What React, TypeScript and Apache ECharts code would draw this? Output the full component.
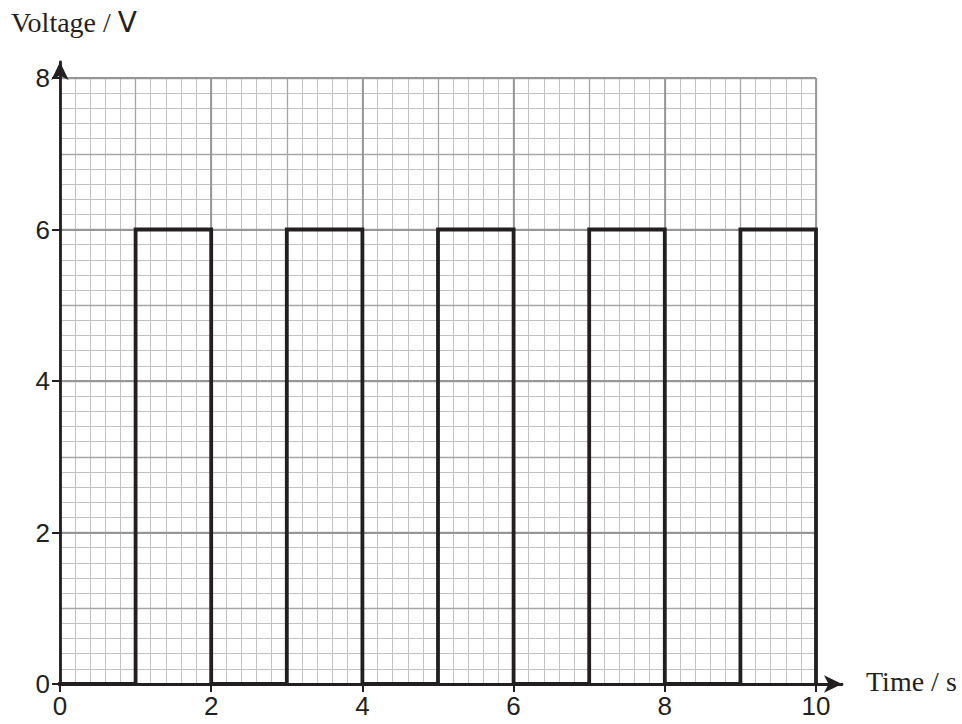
import React, { useEffect, useRef } from 'react';
import * as echarts from 'echarts';

const timeEdges = [0, 1, 2, 3, 4, 5, 6, 7, 8, 9, 10];
const voltageLevels = [0, 6, 0, 6, 0, 6, 0, 6, 0, 6, 0];
const xRange = [0, 10];
const yRange = [0, 8];
const majorStep = 2;
const mediumStep = 1;
const minorStep = 0.2;

const INK = '#231f20';
const MINOR = '#c2c2c2';
const MEDIUM = '#a6a6a6';
const MAJOR = '#969696';

const GRID_MAIN = { left: 60, right: 146, top: 78, bottom: 40 };

function gridAxis(kind: 'x' | 'y', step: number, color: string, width: number, z: number, labeled: boolean) {
  const range = kind === 'x' ? xRange : yRange;
  return {
    type: 'value',
    gridIndex: 0,
    min: range[0],
    max: range[1],
    interval: step,
    position: kind === 'x' ? 'bottom' : 'left',
    z,
    axisLine: { show: false, onZero: false },
    axisTick: labeled
      ? { show: true, length: 8, lineStyle: { color: INK, width: 2 } }
      : { show: false },
    axisLabel: labeled
      ? {
          show: true,
          fontFamily: 'Liberation Sans, Arial, sans-serif',
          fontSize: 26,
          color: INK,
          margin: kind === 'x' ? 9 : 10,
        }
      : { show: false },
    splitLine: { show: true, lineStyle: { color, width, type: 'solid' } },
  };
}

export default function App() {
  const ref = useRef<HTMLDivElement>(null);
  useEffect(() => {
    if (!ref.current) return;
    const chart = echarts.init(ref.current, undefined, { renderer: 'svg' });
    const waveData = timeEdges.map((t, i) => [t, voltageLevels[i]]);
    chart.setOption({
      animation: false,
      backgroundColor: '#ffffff',
      grid: [
        { ...GRID_MAIN },
        { left: 60, right: 120, top: 62, bottom: 40 },
      ],
      xAxis: [
        gridAxis('x', majorStep, MAJOR, 1.8, 3, true),
        gridAxis('x', mediumStep, MEDIUM, 1.3, 2, false),
        gridAxis('x', minorStep, MINOR, 1, 1, false),
        {
          type: 'value', gridIndex: 1, min: 0, max: 1, z: 6,
          axisLine: {
            show: true, onZero: false, symbol: ['none', 'arrow'], symbolSize: [13, 18],
            lineStyle: { color: INK, width: 2.8 },
          },
          axisTick: { show: false }, axisLabel: { show: false }, splitLine: { show: false },
        },
      ],
      yAxis: [
        gridAxis('y', majorStep, MAJOR, 1.8, 3, true),
        gridAxis('y', mediumStep, MEDIUM, 1.3, 2, false),
        gridAxis('y', minorStep, MINOR, 1, 1, false),
        {
          type: 'value', gridIndex: 1, min: 0, max: 1, z: 6,
          axisLine: {
            show: true, onZero: false, symbol: ['none', 'arrow'], symbolSize: [13, 18],
            lineStyle: { color: INK, width: 2.8 },
          },
          axisTick: { show: false }, axisLabel: { show: false }, splitLine: { show: false },
        },
      ],
      series: [
        {
          type: 'line',
          xAxisIndex: 0,
          yAxisIndex: 0,
          step: 'end',
          data: waveData,
          symbol: 'none',
          z: 5,
          lineStyle: { color: INK, width: 3.8, join: 'miter', cap: 'square' },
        },
      ],
      graphic: [
        {
          type: 'text',
          left: 11,
          top: 8,
          z: 10,
          style: {
            text: '{s|Voltage}{t| / }{v|V}',
            rich: {
              s: { fontFamily: 'Liberation Serif, Times New Roman, serif', fontSize: 28, fill: INK },
              t: { fontFamily: 'Liberation Serif, Times New Roman, serif', fontSize: 28, fill: INK },
              v: { fontFamily: 'DejaVu Sans, sans-serif', fontSize: 28, fill: INK },
            },
          },
        },
        {
          type: 'text',
          left: 866,
          top: 667,
          z: 10,
          style: {
            text: 'Time / s',
            fontFamily: 'Liberation Serif, Times New Roman, serif',
            fontSize: 28,
            fill: INK,
          },
        },
      ],
    });
    return () => chart.dispose();
  }, []);
  return (
    <div
      ref={ref}
      style={{ position: 'fixed', left: 0, top: 0, width: 962, height: 724, background: '#fff' }}
    />
  );
}
